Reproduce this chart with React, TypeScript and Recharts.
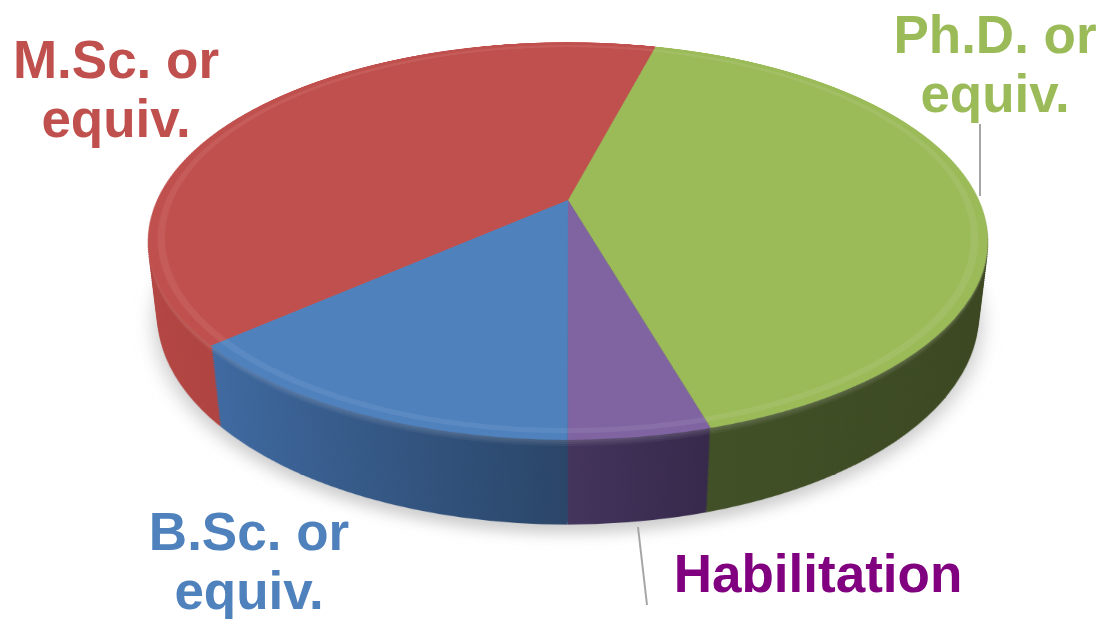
import React from 'react';
import { PieChart, Pie, Cell } from 'recharts';

// slices go clockwise, starting at the Ph.D. / M.Sc. boundary
const categories = ['Ph.D. or equiv.', 'Habilitation', 'B.Sc. or equiv.', 'M.Sc. or equiv.'];
const shares = [41.4, 4.5, 13.5, 40.6];
const topColors = ['#9bbb59', '#8064a2', '#4f81bd', '#c0504d'];
const sideLight = ['#44542a', '#43345c', '#3f6aa1', '#b44643'];
const sideDark = ['#3a4620', '#36294b', '#2a4568', '#9c3a37'];
const labelColors = ['#9bbb59', '#800080', '#4f81bd', '#c0504d'];
const labelLines = [['Ph.D. or', 'equiv.'], ['Habilitation'], ['B.Sc. or', 'equiv.'], ['M.Sc. or', 'equiv.']];

const data = categories.map((name, i) => ({ name, value: shares[i] }));

const W = 1102;
const H = 619;
const R = 411;
const SIZE = 840;
const CX = 568;
const CY = 200;
const TILT = 62.4;
const PERSP = 1768;
const DEPTH = 84;
const STEP = 2;
const START = 90 - 14.8;
const NO_MARGIN = { top: 0, right: 0, bottom: 0, left: 0 };

// label placement (centre x, first baseline) and leader lines
const labelPos = [
  { x: 995, y: 53 },
  { x: 818, y: 592 },
  { x: 249, y: 550 },
  { x: 116, y: 78 },
];
const leaders = [
  { x1: 980, y1: 124, x2: 980, y2: 196 },
  { x1: 638, y1: 527, x2: 647, y2: 605 },
];

function mix(a: string, b: string, t: number) {
  const pa = [1, 3, 5].map((o) => parseInt(a.slice(o, o + 2), 16));
  const pb = [1, 3, 5].map((o) => parseInt(b.slice(o, o + 2), 16));
  return '#' + pa.map((v, i) => Math.round(v + (pb[i] - v) * t).toString(16).padStart(2, '0')).join('');
}

function layerStyle(z: number, extra?: React.CSSProperties): React.CSSProperties {
  return {
    position: 'absolute',
    left: CX - SIZE / 2,
    top: CY - SIZE / 2,
    width: SIZE,
    height: SIZE,
    transformOrigin: '50% 50%',
    transform: `perspective(${PERSP}px) rotateX(${TILT}deg) translateZ(${z}px)`,
    ...extra,
  };
}

const SideLayer = ({ k, d }: { k: number; d: number }) => {
  // top of the wall catches a bit more light
  const lift = d < 8 ? 0.18 * (1 - d / 8) : 0;
  return (
    <div style={layerStyle(-d)}>
      <PieChart width={SIZE} height={SIZE} margin={NO_MARGIN}>
        <defs>
          {topColors.map((_, i) => (
            <linearGradient key={i} id={`side-${k}-${i}`} x1="0" y1="0" x2="1" y2="0">
              <stop offset="0%" stopColor={mix(sideLight[i], '#ffffff', lift)} />
              <stop offset="100%" stopColor={mix(sideDark[i], '#ffffff', lift)} />
            </linearGradient>
          ))}
        </defs>
        <Pie
          data={data}
          dataKey="value"
          cx={SIZE / 2}
          cy={SIZE / 2}
          outerRadius={R}
          startAngle={START}
          endAngle={START - 360}
          stroke="none"
          isAnimationActive={false}
        >
          {data.map((_, i) => (
            <Cell key={i} fill={`url(#side-${k}-${i})`} />
          ))}
        </Pie>
      </PieChart>
    </div>
  );
};

export default function App() {
  const layers: number[] = [];
  for (let d = DEPTH; d > 0; d -= STEP) layers.push(d);

  return (
    <div style={{ position: 'absolute', left: 0, top: 0, width: W, height: H, overflow: 'hidden', background: '#fff' }}>
      {/* soft shadow under the pie */}
      <div style={layerStyle(-DEPTH - 6, { filter: 'blur(9px)', opacity: 0.3 })}>
        <PieChart width={SIZE} height={SIZE} margin={NO_MARGIN}>
          <Pie
            data={data}
            dataKey="value"
            cx={SIZE / 2}
            cy={SIZE / 2}
            outerRadius={R + 4}
            startAngle={START}
            endAngle={START - 360}
            stroke="none"
            fill="#555"
            isAnimationActive={false}
          />
        </PieChart>
      </div>

      {layers.map((d, k) => (
        <SideLayer key={k} k={k} d={d} />
      ))}

      {/* top face */}
      <div style={layerStyle(0)}>
        <PieChart width={SIZE} height={SIZE} margin={NO_MARGIN}>
          <Pie
            data={data}
            dataKey="value"
            cx={SIZE / 2}
            cy={SIZE / 2}
            outerRadius={R}
            startAngle={START}
            endAngle={START - 360}
            stroke="none"
            isAnimationActive={false}
          >
            {data.map((_, i) => (
              <Cell key={i} fill={topColors[i]} />
            ))}
          </Pie>
          <Pie
            data={data}
            dataKey="value"
            cx={SIZE / 2}
            cy={SIZE / 2}
            innerRadius={R - 16}
            outerRadius={R - 9}
            startAngle={START}
            endAngle={START - 360}
            stroke="none"
            isAnimationActive={false}
          >
            {data.map((_, i) => (
              <Cell key={i} fill={mix(topColors[i], '#ffffff', 0.2)} fillOpacity={0.35} />
            ))}
          </Pie>
        </PieChart>
      </div>

      <svg width={W} height={H} style={{ position: 'absolute', left: 0, top: 0 }}>
        {leaders.map((l, i) => (
          <line key={i} x1={l.x1} y1={l.y1} x2={l.x2} y2={l.y2} stroke="#a6a6a6" strokeWidth={2} />
        ))}
        {labelLines.map((lines, i) => (
          <text
            key={i}
            x={labelPos[i].x}
            y={labelPos[i].y}
            textAnchor="middle"
            fill={labelColors[i]}
            fontFamily="'Liberation Sans', Arial, sans-serif"
            fontWeight="bold"
            fontSize={53}
          >
            {lines.map((t, j) => (
              <tspan key={j} x={labelPos[i].x} dy={j === 0 ? 0 : 59}>
                {t}
              </tspan>
            ))}
          </text>
        ))}
      </svg>
    </div>
  );
}
